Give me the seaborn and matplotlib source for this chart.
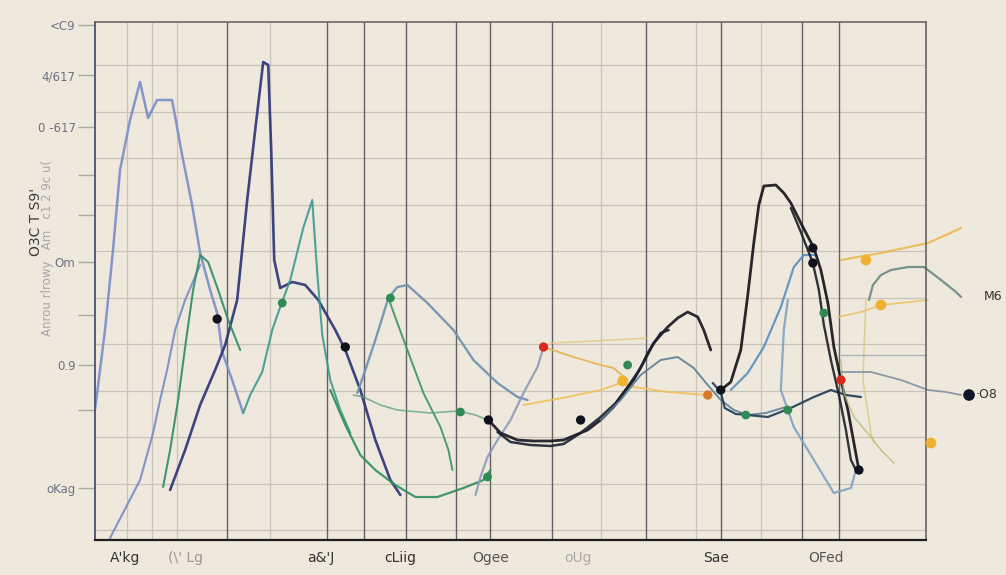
import matplotlib
matplotlib.use("Agg")
import matplotlib.pyplot as plt
import seaborn as sns
import pandas as pd

# ---------------- data ----------------
x_tick_pos = [30, 90, 225, 305, 395, 482, 620, 730]
x_tick_labels = ["A'kg", "(\\' Lg", "a&'J", "cLiig", "Ogee", "oUg", "Sae", "OFed"]
y_tick_pos = [515, 465, 413, 365, 325, 278, 225, 175, 130, 52]
y_tick_labels = ["<C9", "4/617", "0 -617", "", "", "Om", "", "0.9", "", "oKag"]
h_grid = [10, 56, 103, 149, 196, 242, 289, 335, 382, 428, 475]
v_grid_light = [32, 57, 82, 175, 505, 600, 665]
v_grid_dark = [132, 232, 269, 311, 361, 395, 456, 550, 625, 706, 743]

slate_x = [0, 10, 18, 25, 35, 45, 53, 62, 77, 87, 97, 105, 115, 122, 127, 137, 148]
slate_y = [130, 210, 290, 370, 420, 458, 422, 440, 440, 385, 335, 287, 250, 227, 188, 160, 127]
rise_x = [15, 28, 45, 58, 65, 72, 80, 90, 105]
rise_y = [2, 27, 60, 107, 140, 170, 210, 240, 275]
navy_x = [75, 90, 105, 120, 130, 142, 152, 160, 168, 173, 176, 179, 185, 197, 210, 223, 240, 250, 265, 280, 295, 305]
navy_y = [50, 90, 135, 170, 195, 240, 340, 410, 478, 475, 390, 280, 252, 258, 255, 240, 210, 190, 150, 100, 60, 45]
green_x = [68, 75, 83, 91, 98, 105, 113, 123, 133, 145]
green_y = [53, 90, 140, 200, 250, 285, 278, 250, 220, 190]
teal_x = [148, 155, 167, 177, 185, 195, 208, 217, 219, 222, 227, 235, 245, 255]
teal_y = [127, 145, 168, 210, 233, 260, 312, 340, 310, 267, 205, 160, 130, 107]
arc_x = [262, 270, 280, 293, 302, 312, 332, 358, 378, 402, 422, 432]
arc_y = [147, 170, 200, 242, 253, 255, 237, 210, 180, 157, 143, 140]
bowl_x = [235, 250, 265, 280, 300, 320, 342, 368, 388, 395]
bowl_y = [150, 115, 85, 70, 55, 43, 43, 52, 60, 70]
desc_x = [293, 302, 312, 328, 345, 353, 357]
desc_y = [242, 217, 190, 147, 113, 90, 70]
flat_x = [258, 268, 285, 302, 335, 363, 380, 392]
flat_y = [145, 143, 135, 130, 127, 129, 125, 120]
blk_x = [393, 405, 422, 438, 455, 468, 480, 492, 505, 518, 528, 538, 548, 558, 572, 582, 592, 602, 608, 615]
blk_y = [120, 107, 100, 99, 99, 100, 105, 110, 120, 133, 147, 160, 178, 197, 213, 222, 228, 223, 210, 190]
blk2_x = [402, 415, 435, 455, 468, 485, 505, 520, 532, 545, 552, 565, 573]
blk2_y = [108, 98, 95, 94, 96, 107, 123, 137, 153, 172, 187, 207, 210]
gb_x = [448, 442, 428, 415, 402, 392, 385, 380]
gb_y = [193, 173, 147, 120, 100, 83, 63, 45]
gb2_x = [505, 525, 545, 565, 582, 598, 612, 625, 638, 652, 670, 690]
gb2_y = [120, 140, 165, 180, 183, 172, 155, 140, 130, 125, 127, 133]
peak_x = [625, 635, 645, 652, 658, 663, 668, 680, 688, 695, 705, 718, 725, 732, 738, 745, 752, 758, 763]
peak_y = [150, 158, 190, 245, 297, 335, 354, 355, 347, 337, 317, 292, 270, 237, 193, 160, 130, 97, 70]
peak2_x = [695, 705, 717, 723, 728, 735, 743, 750, 755, 760]
peak2_y = [332, 308, 277, 250, 215, 180, 145, 110, 80, 70]
low_x = [617, 625, 629, 640, 652, 672, 695, 718, 735, 750, 765]
low_y = [157, 148, 132, 126, 125, 123, 132, 143, 150, 145, 143]
bl_rise_x = [635, 652, 668, 685, 698, 708, 720]
bl_rise_y = [150, 167, 193, 233, 273, 285, 285]
bl_desc_x = [692, 688, 685, 698, 718, 738, 755, 760]
bl_desc_y = [240, 210, 150, 113, 80, 47, 52, 70]
gg_x = [773, 777, 785, 795, 812, 828, 845, 860, 865]
gg_y = [240, 255, 265, 270, 273, 273, 260, 248, 243]
or1_x = [448, 478, 505, 518, 532]
or1_y = [193, 183, 175, 172, 160]
or2_x = [428, 472, 505, 525, 538, 572, 612]
or2_y = [135, 143, 150, 157, 153, 148, 145]
or3_x = [455, 500, 552]
or3_y = [197, 199, 202]
ye1_x = [745, 785, 832, 850, 865]
ye1_y = [280, 287, 297, 305, 312]
ye2_x = [742, 765, 785, 832]
ye2_y = [223, 228, 235, 240]
ye3_x = [770, 767, 775, 778]
ye3_y = [240, 160, 107, 97]
ye4_x = [745, 748, 758, 775, 785, 798]
ye4_y = [180, 147, 123, 103, 90, 77]
gr1_x = [745, 775, 805, 832, 850, 865]
gr1_y = [168, 168, 160, 150, 148, 145]
gr2_x = [745, 805, 830]
gr2_y = [185, 185, 185]

dot_black_x = [122, 250, 393, 485, 717, 717, 625, 763]
dot_black_y = [221, 193, 120, 120, 292, 277, 150, 70]
dot_green_x = [187, 295, 365, 650, 692, 728, 392, 532]
dot_green_y = [237, 242, 128, 125, 130, 227, 63, 175]
dot_red_x = [448, 745]
dot_red_y = [193, 160]
dot_orange_x = [612]
dot_orange_y = [145]
dot_yellow_x = [527, 785, 835, 770]
dot_yellow_y = [159, 235, 97, 280]
dot_navy_x = [873]
dot_navy_y = [145]

right_labels = ["M6", "\u00b7O8"]

# ---------------- style ----------------
BG = "#efe9dd"
sns.set_theme(style="white", rc={"axes.facecolor": BG, "figure.facecolor": BG})
plt.rcParams["font.family"] = ["DejaVu Sans"]

fig = plt.figure(figsize=(10.06, 5.75), dpi=100)
ax = fig.add_axes([95 / 1006, 35 / 575, 831 / 1006, 518 / 575])
ax.set_facecolor(BG)
ax.set_xlim(0, 830)
ax.set_ylim(0, 518)

# grid
for v in h_grid:
    ax.axhline(v, color="#c8c4ba", lw=0.9, zorder=0)
for v in v_grid_light:
    ax.axvline(v, color="#c8c4ba", lw=0.9, zorder=0)
for v in v_grid_dark:
    ax.axvline(v, color="#626266", lw=1.0, zorder=0.5)


def line(x, y, color, lw=1.6, alpha=0.9, clip=True):
    sns.lineplot(x=x, y=y, sort=False, estimator=None, color=color, lw=lw,
                 alpha=alpha, ax=ax, clip_on=clip, solid_capstyle="round")


line(slate_x, slate_y, "#7a8dc6", 1.8)
line(rise_x, rise_y, "#6f88c2", 1.5, 0.85)
line(navy_x, navy_y, "#2a3275", 1.9)
line(green_x, green_y, "#2f8c68", 1.5)
line(teal_x, teal_y, "#3c9a90", 1.5)
line(arc_x, arc_y, "#6f8fae", 1.7)
line(bowl_x, bowl_y, "#2f8f5c", 1.6)
line(desc_x, desc_y, "#3a9464", 1.4)
line(flat_x, flat_y, "#5aa083", 1.2, 0.75)
line(or3_x, or3_y, "#e6c27a", 1.2, 0.7)
line(or1_x, or1_y, "#e8b04a", 1.4, 0.85)
line(or2_x, or2_y, "#f0c060", 1.5, 0.85)
line(gb_x, gb_y, "#8a9cbb", 1.6)
line(blk_x, blk_y, "#15151f", 2.0)
line(blk2_x, blk2_y, "#1d2030", 1.8)
line(gb2_x, gb2_y, "#5d7f95", 1.4)
line(low_x, low_y, "#1f3a52", 1.6)
line(bl_rise_x, bl_rise_y, "#5b8fc2", 1.6)
line(bl_desc_x, bl_desc_y, "#7fa2c2", 1.6)
line(peak_x, peak_y, "#111118", 2.0)
line(peak2_x, peak2_y, "#1b1e28", 1.7)
line(ye1_x, ye1_y, "#e9b84c", 1.6, 0.85, clip=False)
line(ye2_x, ye2_y, "#efc266", 1.3, 0.85, clip=False)
line(ye3_x, ye3_y, "#d8c987", 1.2, 0.8)
line(ye4_x, ye4_y, "#b9c27a", 1.2, 0.8)
line(gr2_x, gr2_y, "#9aa3ad", 1.0, 0.8)
line(gr1_x, gr1_y, "#7a8a9a", 1.3, 0.85, clip=False)
line(gg_x, gg_y, "#6f8f88", 1.6, 0.95, clip=False)


def dots(x, y, color, s=45):
    sns.scatterplot(x=x, y=y, color=color, s=s, ax=ax, edgecolor="none",
                    zorder=5, clip_on=False, legend=False)


dots(dot_black_x, dot_black_y, "#11131c")
dots(dot_green_x, dot_green_y, "#2f8a55", 40)
dots(dot_red_x, dot_red_y, "#d9291e")
dots(dot_orange_x, dot_orange_y, "#d9772a")
dots(dot_yellow_x, dot_yellow_y, "#f0b030", 60)
dots(dot_navy_x, dot_navy_y, "#101628", 70)

# right-side labels
ax.text(888, 244, right_labels[0], fontsize=9, color="#333333", va="center", clip_on=False)
ax.text(880, 145, right_labels[1], fontsize=9, color="#333333", va="center", clip_on=False)

# ticks
ax.set_xticks(x_tick_pos)
ax.set_xticklabels(x_tick_labels)
x_colors = ["#333", "#999", "#333", "#333", "#555", "#aaa", "#333", "#555"]
for lab, c in zip(ax.get_xticklabels(), x_colors):
    lab.set_color(c)
ax.tick_params(axis="x", length=0, pad=8, labelsize=10)
ax.set_yticks(y_tick_pos)
ax.set_yticklabels(y_tick_labels)
ax.tick_params(axis="y", length=12, width=1.0, color="#a9a8a4", labelsize=8.5,
               labelcolor="#6c7184", pad=2, left=True)

for side, c, w in [("left", "#4b5270", 1.3), ("bottom", "#1e1e1e", 1.6),
                   ("top", "#5e5e5e", 1.1), ("right", "#5a5a5e", 1.1)]:
    ax.spines[side].set_visible(True)
    ax.spines[side].set_color(c)
    ax.spines[side].set_linewidth(w)

# y labels
fig.text(36 / 1006, 1 - 222 / 575, "O3C T S9'", rotation=90, fontsize=10,
         color="#3a3a40", ha="center", va="center")
fig.text(48 / 1006, 1 - 248 / 575, "Anrou rlrowy   Am   c1 2 9c u(", rotation=90,
         fontsize=8.5, color="#a6a6aa", ha="center", va="center")

fig.savefig("out.png", dpi=100, facecolor=BG)
